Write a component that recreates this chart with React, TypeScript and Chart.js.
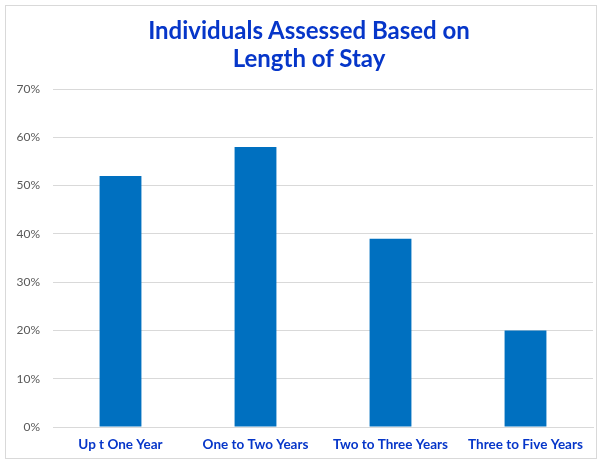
import React, { useEffect, useRef } from "react";
import { Chart, registerables } from "chart.js";

Chart.register(...registerables);

const categories = ["Up t One Year", "One to Two Years", "Two to Three Years", "Three to Five Years"];
const values = [0.52, 0.58, 0.39, 0.2];
const titleLines = ["Individuals Assessed Based on", "Length of Stay"];

export default function App() {
  const ref = useRef<HTMLCanvasElement | null>(null);
  useEffect(() => {
    if (!ref.current) return;
    const chart = new Chart(ref.current, {
      type: "bar",
      data: {
        labels: categories,
        datasets: [
          {
            data: values,
            backgroundColor: "#0070C0",
            borderWidth: 0,
            categoryPercentage: 1,
            barPercentage: 0.31,
          },
        ],
      },
      options: {
        animation: false,
        responsive: false,
        layout: { padding: { top: 89, left: 0, right: 12, bottom: 0 } },
        plugins: {
          legend: { display: false },
          tooltip: { enabled: false },
          title: { display: false },
        },
        scales: {
          x: {
            grid: { display: false, drawTicks: false },
            border: { display: true, color: "#d9d9d9", width: 1 },
            ticks: {
              color: "#0636C9",
              font: { family: "Lato", size: 13.5, weight: "bold" },
              padding: 10,
              maxRotation: 0,
              autoSkip: false,
            },
            afterFit: (scale: any) => {
              scale.height = 35;
            },
          },
          y: {
            min: 0,
            max: 0.7,
            grid: { color: "#d9d9d9", drawTicks: false },
            border: { display: false },
            ticks: {
              stepSize: 0.1,
              color: "#595959",
              font: { family: "Lato", size: 12 },
              padding: 13,
              callback: (v: any) => Math.round(Number(v) * 100) + "%",
            },
            afterFit: (scale: any) => {
              scale.width = 53;
            },
          },
        },
      },
    });
    return () => chart.destroy();
  }, []);
  return (
    <div style={{ position: "fixed", left: 0, top: 0, width: 605, height: 462, background: "#fff" }}>
      <div
        style={{
          position: "absolute",
          left: 5,
          top: 5,
          width: 590,
          height: 452,
          border: "1px solid #d9d9d9",
        }}
      />
      <canvas ref={ref} width={605} height={462} style={{ position: "absolute", left: 0, top: 0 }} />
      <div
        style={{
          position: "absolute",
          left: 109,
          width: 400,
          top: 16,
          textAlign: "center",
          fontFamily: "Lato",
          fontWeight: "bold",
          fontSize: 24,
          lineHeight: "28px",
          color: "#0636C9",
        }}
      >
        {titleLines.map((t) => (
          <div key={t}>{t}</div>
        ))}
      </div>
    </div>
  );
}
